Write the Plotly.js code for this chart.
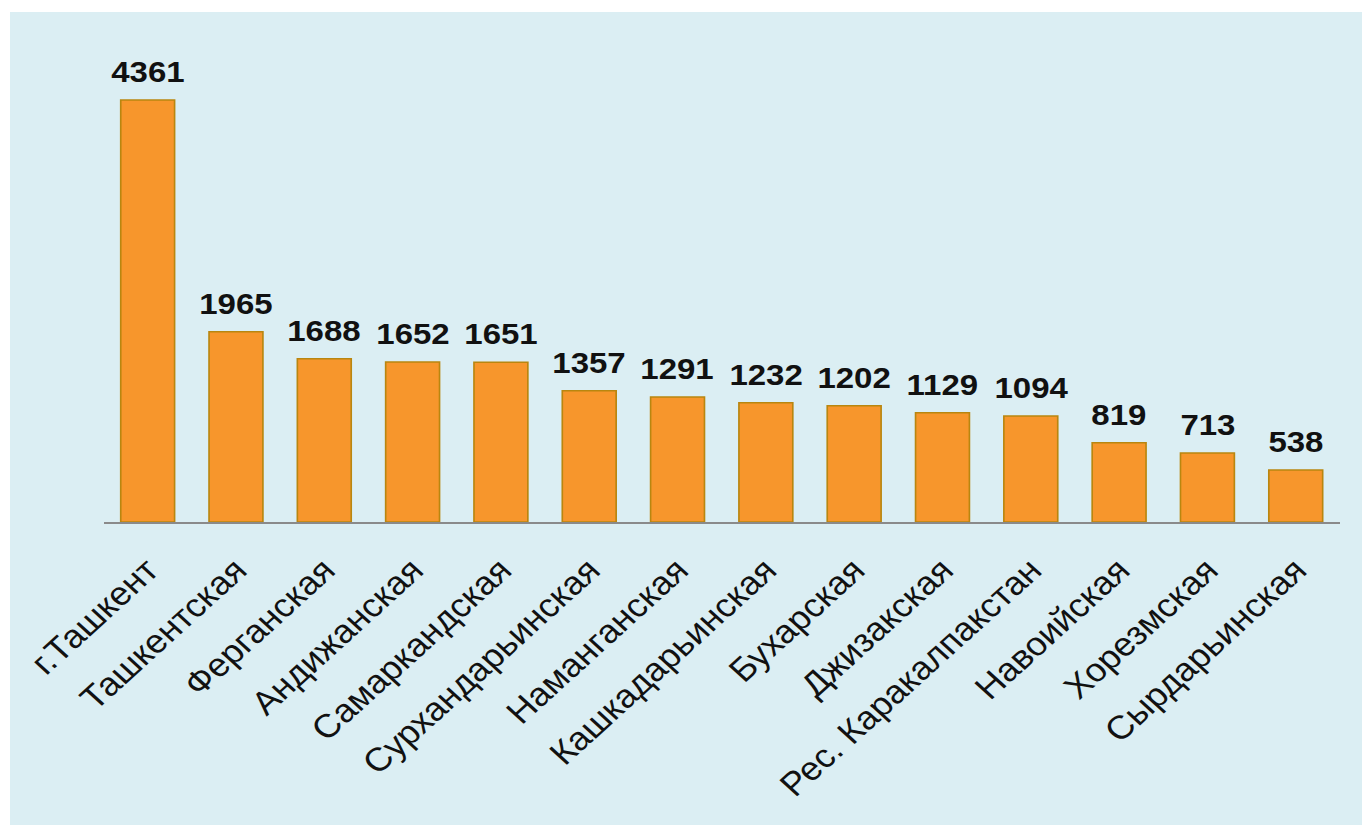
<!DOCTYPE html>
<html>
<head>
<meta charset="utf-8">
<script src="https://cdn.plot.ly/plotly-3.0.1.min.js"></script>
<style>
html,body{margin:0;padding:0;background:#ffffff;width:1362px;height:825px;overflow:hidden;}
#wrap{position:absolute;left:10px;top:12px;width:1352px;height:813px;background:#dbeef3;overflow:hidden;}
#chart{position:absolute;left:0;top:0;width:1229px;height:813px;transform:scaleX(1.1);transform-origin:0 0;}
</style>
</head>
<body>
<div id="wrap"><div id="chart"></div></div>
<script>
const regions = ["г.Ташкент","Ташкентская","Ферганская","Андижанская","Самаркандская","Сурхандарьинская","Наманганская","Кашкадарьинская","Бухарская","Джизакская","Рес. Каракалпакстан","Навоийская","Хорезмская","Сырдарьинская"];
const values = [4361,1965,1688,1652,1651,1357,1291,1232,1202,1129,1094,819,713,538];

const FONT = 'Liberation Sans, Arial, sans-serif';

const trace = {
  type: 'bar',
  x: regions,
  y: values,
  marker: {color: '#f7962c', line: {color: '#b9860f', width: 1.5}},
  hoverinfo: 'x+y'
};

const annotations = regions.map((r, i) => ({
  x: r, y: values[i], xref: 'x', yref: 'y',
  text: String(values[i]),
  showarrow: false, yanchor: 'bottom', yshift: 10,
  font: {family: FONT, size: 30, color: '#111111', weight: 'bold'}
}));

const layout = {
  width: 1229, height: 813,
  margin: {l: 84.5, r: 20, t: 50, b: 303},
  paper_bgcolor: '#dbeef3',
  plot_bgcolor: 'rgba(0,0,0,0)',
  bargap: 0.39,
  showlegend: false,
  font: {family: FONT, color: '#111111'},
  annotations: annotations,
  xaxis: {
    type: 'category',
    tickangle: -45,
    tickfont: {size: 33, color: '#111111'},
    ticklabelstandoff: 14,
    showline: true, linecolor: '#8a8a8a', linewidth: 1.5,
    ticks: '', showgrid: false, zeroline: false
  },
  yaxis: {
    range: [0, 4753],
    visible: false, showgrid: false, zeroline: false
  }
};

Plotly.newPlot('chart', [trace], layout, {displayModeBar: false, staticPlot: true});
</script>
</body>
</html>
